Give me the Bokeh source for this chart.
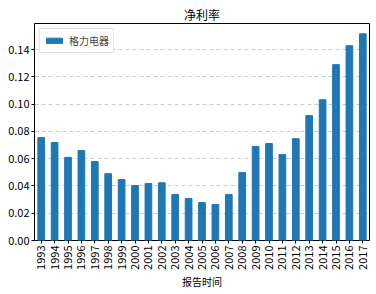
from bokeh.plotting import figure
from bokeh.models import ColumnDataSource, FactorRange, Range1d, FixedTicker, NumeralTickFormatter, Legend, LegendItem
from bokeh.embed import file_html
from bokeh.resources import INLINE
import math

years = [str(y) for y in range(1993, 2018)]
net_margin = [0.0755, 0.0718, 0.0610, 0.0660, 0.0579, 0.0490, 0.0447, 0.0403,
              0.0418, 0.0423, 0.0337, 0.0308, 0.0278, 0.0264, 0.0337, 0.0498,
              0.0689, 0.0711, 0.0630, 0.0747, 0.0916, 0.1033, 0.1290, 0.1429, 0.1516]
y_ticks = [0.0, 0.02, 0.04, 0.06, 0.08, 0.10, 0.12, 0.14]
series_name = "格力电器"
title_text = "净利率"
x_label = "报告时间"

FONT = "Noto Sans CJK SC"

src = ColumnDataSource(dict(x=years, y=net_margin))

p = figure(width=376, height=294, output_backend="svg", toolbar_location=None,
           x_range=FactorRange(*years, range_padding=0),
           y_range=Range1d(0, max(net_margin) * 1.05),
           title=title_text)
p.min_border_left = 34
p.min_border_right = 7
p.min_border_top = 23
p.min_border_bottom = 54

r = p.vbar(x="x", top="y", width=0.5, source=src, color="#1f77b4")

p.title.align = "center"
p.title.text_font = FONT
p.title.text_font_size = "12px"
p.title.text_font_style = "normal"
p.title.text_color = "black"
p.title.standoff = 2
p.title.offset = 0

p.outline_line_color = "black"
p.outline_line_width = 1
p.outline_line_alpha = 1

p.xgrid.grid_line_color = None
p.ygrid.grid_line_color = "#b0c4c4"
p.ygrid.grid_line_dash = "4 3"
p.ygrid.grid_line_alpha = 0.8

p.yaxis.ticker = FixedTicker(ticks=y_ticks)
p.yaxis.formatter = NumeralTickFormatter(format="0.00")
p.yaxis.minor_tick_line_color = None

for ax in (p.xaxis, p.yaxis):
    ax.major_label_text_font = FONT
    ax.major_label_text_font_size = "11px"
    ax.major_label_text_color = "black"
    ax.axis_line_color = None
    ax.major_tick_line_color = "black"
    ax.major_tick_in = 0
    ax.major_tick_out = 3
    ax.major_label_standoff = 2

p.xaxis.major_label_orientation = math.pi / 2
p.xaxis.axis_label = x_label
p.xaxis.axis_label_text_font = FONT
p.xaxis.axis_label_text_font_size = "10px"
p.xaxis.axis_label_text_font_style = "normal"
p.xaxis.axis_label_text_color = "black"
p.xaxis.axis_label_standoff = 1

legend = Legend(items=[LegendItem(label=series_name, renderers=[r])], location="top_left")
legend.label_text_font = FONT
legend.label_text_font_size = "10px"
legend.glyph_width = 20
legend.glyph_height = 7
legend.border_line_color = "#cccccc"
legend.border_line_width = 1
legend.background_fill_alpha = 0.8
legend.padding = 4
legend.margin = 5
legend.spacing = 0
p.add_layout(legend)

open("out.html", "w").write(file_html(p, INLINE))
